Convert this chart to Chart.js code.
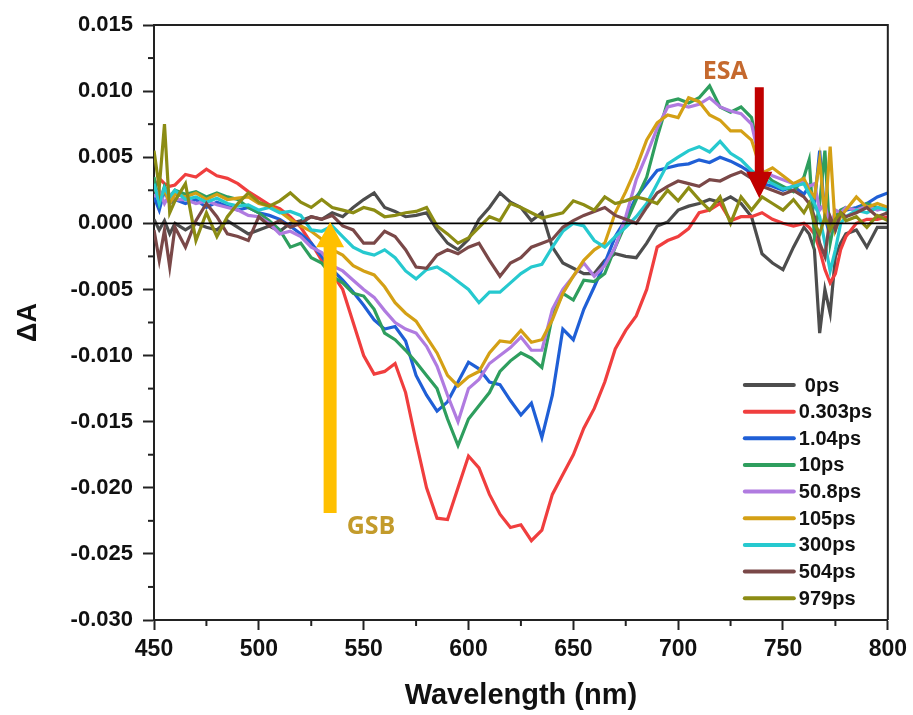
<!DOCTYPE html>
<html><head><meta charset="utf-8">
<script src="https://cdn.jsdelivr.net/npm/chart.js@4.4.1/dist/chart.umd.min.js"></script>
<style>html,body{margin:0;padding:0;background:#fff}</style>
</head><body>
<canvas id="c" width="913" height="715"></canvas>
<script>
// Wavelength grid (nm)
const wavelengths = [450,452.5,455,457.5,460,
 465,470,475,480,485,490,495,500,505,510,515,520,525,530,535,540,545,550,555,560,565,570,575,580,
 585,590,595,600,605,610,615,620,625,630,635,640,645,650,655,660,665,670,675,680,685,690,695,700,
 705,710,715,720,725,730,735,740,745,750,755,
 760,762.5,765,767.5,770,772.5,775,777.5,780,
 785,790,795,800];

// ΔA values in units of 10^-3
const dA_0ps = [0.3,-0.5,0.2,-0.8,0.0,
 -0.5,0.0,-0.3,-0.5,0.2,-0.3,-0.8,-0.5,
 -0.2,-0.6,0.0,0.2,0.5,0.3,0.8,0.5,
 1.2,1.8,2.3,1.2,0.9,0.5,0.6,0.8,
 -0.5,-1.5,-2.0,-1.2,0.3,1.2,2.3,1.6,
 1.2,0.2,0.8,-1.8,-3.0,-3.4,-3.8,-3.8,
 -2.8,-2.3,-2.5,-2.6,-1.5,-0.2,0.1,1.0,
 1.3,1.5,1.8,1.6,2.0,1.5,0.5,-2.3,
 -3.0,-3.5,-1.8,
 -0.3,-0.8,-2.0,-8.3,-5.0,-6.8,-2.5,-1.5,-0.8,
 -0.5,-1.8,-0.3,-0.3];
const dA_0303ps = [2.5,3.4,3.0,2.8,2.9,
 3.7,3.5,4.1,3.6,3.4,3.0,2.4,1.9,
 1.4,1.1,0.5,-0.3,-1.5,-2.8,-3.8,-5.0,
 -7.5,-10.0,-11.4,-11.2,-10.6,-12.8,-16.5,-20.0,
 -22.3,-22.4,-20.0,-17.6,-18.5,-20.5,-22.0,-23.0,
 -22.8,-24.0,-23.2,-20.5,-19.0,-17.5,-15.5,-14.0,
 -12.0,-9.5,-8.1,-7.0,-5.0,-1.8,-1.3,-1.0,
 -0.4,0.8,1.0,1.5,0.2,0.5,0.5,0.8,
 0.3,0.0,-0.2,
 0.0,-0.3,-0.8,-2.0,-3.5,-4.5,-3.8,-2.0,-1.0,
 0.0,0.3,0.3,0.5];
const dA_104ps = [2.0,1.0,2.5,1.5,1.8,
 1.5,1.8,1.2,1.6,1.3,1.0,1.2,0.8,
 0.6,0.3,-0.2,-0.8,-1.5,-2.5,-3.5,-4.3,
 -5.2,-6.2,-7.3,-8.0,-7.8,-8.9,-11.5,-13.0,
 -14.2,-13.5,-12.0,-10.5,-11.0,-12.0,-12.2,-13.4,
 -14.5,-13.6,-16.2,-13.0,-8.0,-8.8,-6.5,-4.8,
 -3.0,-1.0,0.3,2.0,3.0,4.0,4.2,4.4,
 4.5,4.8,4.6,5.0,4.7,4.3,3.8,3.0,
 2.8,2.5,2.8,
 2.2,2.8,1.5,5.5,0.5,-1.0,0.3,0.8,1.0,
 1.2,1.5,2.0,2.3];
const dA_10ps = [3.5,1.5,2.8,2.0,2.5,
 2.2,2.4,2.0,2.3,2.0,1.8,1.2,0.8,
 0.2,-0.5,-1.8,-1.5,-2.6,-3.0,-4.0,-4.5,
 -5.3,-5.5,-6.5,-8.3,-8.8,-9.6,-10.5,-11.5,
 -12.5,-14.8,-16.8,-14.8,-13.8,-12.8,-11.2,-10.4,
 -9.8,-10.2,-10.9,-7.0,-5.3,-5.8,-4.3,-4.4,
 -3.8,-1.8,0.0,1.8,3.5,6.5,9.2,9.4,
 9.1,9.5,10.4,8.8,8.4,8.8,8.0,4.0,
 3.2,2.8,2.4,
 3.5,4.8,-1.0,1.5,5.5,-1.5,0.5,1.0,1.2,
 1.0,1.5,1.2,1.0];
const dA_508ps = [2.0,2.5,1.5,2.2,1.8,
 1.8,1.5,1.7,1.4,1.2,1.0,0.6,0.5,
 0.0,-0.8,-0.6,-1.0,-1.8,-2.2,-3.2,-3.6,
 -4.3,-5.0,-5.6,-6.6,-7.5,-8.0,-8.3,-9.3,
 -10.8,-13.0,-15.0,-12.5,-11.8,-10.6,-10.0,-9.4,
 -8.6,-9.6,-9.6,-6.5,-5.0,-4.0,-3.0,-4.0,
 -3.2,-1.8,0.5,3.3,5.2,7.2,8.8,9.0,
 8.8,9.0,9.5,8.8,8.5,8.3,7.5,4.0,
 3.6,3.3,3.0,
 3.2,2.8,3.0,1.0,1.5,-0.5,1.0,0.8,1.2,
 1.0,1.3,1.0,1.2];
const dA_105ps = [2.8,1.8,2.5,1.5,2.2,
 2.0,2.3,1.8,2.2,1.8,1.9,2.0,1.5,
 1.3,0.9,0.3,-0.2,-0.6,-1.2,-2.0,-2.4,
 -3.2,-3.6,-3.9,-4.8,-6.0,-6.8,-7.4,-8.6,
 -9.8,-11.5,-12.3,-11.6,-11.2,-9.8,-8.9,-9.0,
 -8.1,-9.0,-8.8,-7.3,-5.3,-4.0,-2.8,-2.0,
 -1.5,0.8,2.4,4.2,6.3,7.6,8.2,8.0,
 9.5,9.2,8.2,7.8,7.0,7.0,6.3,3.8,
 4.2,3.6,3.0,
 3.4,2.5,2.0,4.8,0.5,5.8,-0.5,0.5,1.0,
 2.0,1.2,1.5,1.2];
const dA_300ps = [3.0,1.5,2.7,2.0,2.5,
 1.8,2.0,1.6,1.9,1.5,1.3,1.4,1.0,
 1.2,0.8,0.9,0.6,-0.5,-0.6,-0.2,-1.0,
 -1.8,-2.2,-2.4,-2.0,-2.6,-3.6,-4.2,-3.5,
 -3.3,-3.8,-4.4,-5.0,-6.0,-5.2,-5.2,-4.5,
 -3.8,-3.3,-3.1,-1.8,-0.6,0.0,-0.2,-1.3,
 -1.8,-1.0,-0.3,0.5,1.5,3.0,4.5,5.0,
 5.5,5.8,5.4,6.2,5.3,4.8,4.0,3.4,
 3.0,2.6,2.8,
 3.0,2.2,1.5,0.5,-1.5,-3.6,-2.0,0.0,0.5,
 1.0,0.8,1.2,1.0];
const dA_504ps = [-0.5,-2.8,-0.5,-3.3,-0.3,
 -1.8,0.2,1.5,0.5,-0.8,-1.0,-1.3,0.5,
 -0.2,0.2,-0.3,0.0,0.5,0.3,0.6,-0.2,
 -0.5,-1.5,-1.5,-0.6,-1.0,-2.0,-3.3,-3.4,
 -2.4,-2.0,-2.3,-1.8,-1.5,-2.8,-4.0,-3.0,
 -2.6,-1.8,-1.5,-1.2,-0.3,0.2,0.6,0.9,
 1.2,0.6,0.3,0.0,1.2,2.3,2.8,3.2,
 3.0,2.8,3.3,3.2,3.6,3.9,3.4,2.8,
 2.5,2.2,2.5,
 2.0,1.5,0.5,-1.5,-2.5,0.5,-0.5,0.8,0.5,
 0.8,1.2,0.5,0.8];
const dA_979ps = [5.5,2.7,7.5,0.8,1.7,
 3.0,-1.3,0.8,-1.0,0.5,1.5,2.3,1.6,
 1.3,1.7,2.3,1.6,1.2,1.8,1.2,1.0,
 0.8,1.2,1.0,0.5,0.6,0.8,0.9,1.2,
 -0.2,-0.8,-1.5,-1.1,-0.3,0.5,0.2,1.5,
 1.2,0.8,0.4,0.6,0.8,1.7,1.4,1.0,
 2.0,1.5,1.7,2.0,1.8,1.5,2.5,1.7,
 2.7,1.8,1.0,2.0,0.0,2.0,1.0,2.0,
 1.5,1.0,1.8,
 0.8,1.5,0.0,-0.8,0.5,-0.5,0.3,0.8,0.2,
 0.5,-0.3,0.6,0.2];

const seriesNames = ['0ps','0.303ps','1.04ps','10ps','50.8ps','105ps','300ps','504ps','979ps'];
const seriesValues = [dA_0ps,dA_0303ps,dA_104ps,dA_10ps,dA_508ps,dA_105ps,dA_300ps,dA_504ps,dA_979ps];
const seriesColors = ['#4d4d4d','#f03e3e','#1f5fd6','#2e9e5e','#b07be0','#d4a015','#26c9cf','#7a4848','#8c8c14'];

const xTickValues = [450,500,550,600,650,700,750,800];
const yTickValues = [0.015,0.010,0.005,0.000,-0.005,-0.010,-0.015,-0.020,-0.025,-0.030];

const FONT = "'Liberation Sans', Arial, sans-serif";

// datasets: last series first so that it is drawn on top
const datasets = seriesNames.map((name,i)=>({
  label: name,
  data: wavelengths.map((w,k)=>({x:w, y: seriesValues[i][k]/1000})),
  borderColor: seriesColors[i],
  backgroundColor: seriesColors[i],
  borderWidth: 3.2,
  pointRadius: 0,
  tension: 0,
  fill: false
})).reverse();

function arrow(ctx, x, yTail, yBase, yTip, halfShaft, halfHead, color){
  ctx.save();
  ctx.fillStyle = color;
  ctx.beginPath();
  ctx.moveTo(x-halfShaft, yTail);
  ctx.lineTo(x+halfShaft, yTail);
  ctx.lineTo(x+halfShaft, yBase);
  ctx.lineTo(x+halfHead, yBase);
  ctx.lineTo(x, yTip);
  ctx.lineTo(x-halfHead, yBase);
  ctx.lineTo(x-halfShaft, yBase);
  ctx.closePath();
  ctx.fill();
  ctx.restore();
}

const deco = {
  id: 'deco',
  afterDatasetsDraw(chart){
    const {ctx, chartArea:a, scales:{x,y}} = chart;
    ctx.save();
    ctx.strokeStyle = '#000';
    ctx.lineWidth = 1.6;
    const y0 = y.getPixelForValue(0);
    ctx.beginPath(); ctx.moveTo(a.left, y0); ctx.lineTo(a.right, y0); ctx.stroke();
    ctx.restore();
  },
  afterDraw(chart){
    const {ctx, chartArea:a, scales:{x,y}} = chart;
    ctx.save();
    // frame top & right
    ctx.strokeStyle = '#222';
    ctx.lineWidth = 2;
    ctx.beginPath();
    ctx.moveTo(a.left, a.top); ctx.lineTo(a.right, a.top); ctx.lineTo(a.right, a.bottom);
    ctx.stroke();
    // minor ticks
    ctx.lineWidth = 2;
    const xt = x.ticks.map(t=>t.value);
    for (let i=0;i<xt.length-1;i++){
      const px = x.getPixelForValue((xt[i]+xt[i+1])/2);
      ctx.beginPath(); ctx.moveTo(px, a.bottom); ctx.lineTo(px, a.bottom+6); ctx.stroke();
    }
    const yt = y.ticks.map(t=>t.value);
    for (let i=0;i<yt.length-1;i++){
      const py = y.getPixelForValue((yt[i]+yt[i+1])/2);
      ctx.beginPath(); ctx.moveTo(a.left-6, py); ctx.lineTo(a.left, py); ctx.stroke();
    }
    // ESA arrow and label
    const ex = x.getPixelForValue(738.7);
    arrow(ctx, ex, y.getPixelForValue(0.0103), y.getPixelForValue(0.0039), y.getPixelForValue(0.0019), 4.5, 13, '#c00000');
    ctx.fillStyle = '#c5692e';
    ctx.font = "bold 25px 'Open Sans', " + FONT;
    ctx.textAlign = 'center'; ctx.textBaseline = 'middle';
    ctx.fillText('ESA', x.getPixelForValue(722.5), y.getPixelForValue(0.01144));
    // GSB arrow and label
    const gx = x.getPixelForValue(534);
    arrow(ctx, gx, y.getPixelForValue(-0.0219), y.getPixelForValue(-0.0018), y.getPixelForValue(0.0001), 6.5, 14, '#ffc000');
    ctx.fillStyle = '#c39b2b';
    ctx.fillText('GSB', x.getPixelForValue(553.5), y.getPixelForValue(-0.02295));
    // legend
    ctx.font = 'bold 20px ' + FONT;
    ctx.textAlign = 'left'; ctx.textBaseline = 'middle';
    const lx0 = a.right - 143, lx1 = a.right - 94, tx = a.right - 89;
    const ly0 = a.bottom - 235, dy = 26.65;
    seriesNames.forEach((n,i)=>{
      const yy = ly0 + i*dy;
      ctx.strokeStyle = seriesColors[i];
      ctx.lineWidth = 4;
      ctx.lineCap = 'round';
      ctx.beginPath(); ctx.moveTo(lx0, yy); ctx.lineTo(lx1, yy); ctx.stroke();
      ctx.fillStyle = '#111';
      ctx.fillText(n, tx + (i===0?6:0), yy+1);
    });
    ctx.restore();
  }
};

new Chart(document.getElementById('c'), {
  type: 'line',
  data: { datasets },
  options: {
    responsive: false,
    devicePixelRatio: 1,
    animation: false,
    layout: { autoPadding: false, padding: { top: 25, right: 22, left: 0, bottom: 0 } },
    plugins: { legend: { display: false }, tooltip: { enabled: false } },
    scales: {
      x: {
        type: 'linear', min: 450, max: 800,
        afterBuildTicks(s){ s.ticks = xTickValues.map(v=>({value:v})); },
        afterFit(s){ s.height = 95; },
        ticks: { font: { family: FONT, size: 23, weight: 'bold' }, color: '#111', padding: 6,
                 callback: v => String(v) },
        grid: { drawOnChartArea: false, tickLength: 10, tickWidth: 2, tickColor: '#222', color: '#222' },
        border: { display: true, width: 2, color: '#222' },
        title: { display: true, text: 'Wavelength (nm)', color: '#111',
                 font: { family: FONT, size: 29, weight: 'bold' }, padding: { top: 0, bottom: 2 } }
      },
      y: {
        type: 'linear', min: -0.030, max: 0.015,
        afterBuildTicks(s){ s.ticks = yTickValues.slice().reverse().map(v=>({value:v})); },
        afterFit(s){ s.width = 154; },
        ticks: { font: { family: FONT, size: 22, weight: 'bold' }, color: '#111', padding: 10,
                 callback: v => Number(v).toFixed(3) },
        grid: { drawOnChartArea: false, tickLength: 11, tickWidth: 2, tickColor: '#222', color: '#222' },
        border: { display: true, width: 2, color: '#222' },
        title: { display: true, text: 'ΔA', color: '#111',
                 font: { family: FONT, size: 27, weight: 'bold' }, padding: { top: 12, bottom: 0 } }
      }
    }
  },
  plugins: [deco]
});
</script>
</body></html>
